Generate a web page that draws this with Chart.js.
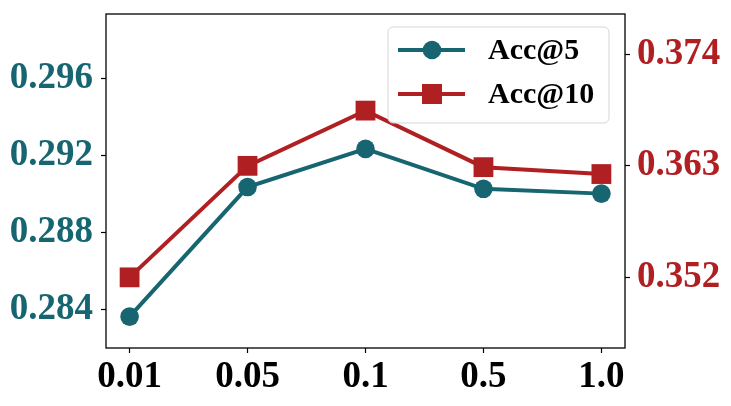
<!DOCTYPE html>
<html>
<head>
<meta charset="utf-8">
<script src="https://cdn.jsdelivr.net/npm/chart.js@4/dist/chart.umd.min.js"></script>
<style>
  html, body { margin: 0; padding: 0; background: #fff; }
  #wrap { width: 731px; height: 406px; position: relative; }
</style>
</head>
<body>
<div id="wrap"><canvas id="chart" width="731" height="406"></canvas></div>
<script>
const xLabels = ["0.01", "0.05", "0.1", "0.5", "1.0"];
const acc5 = [0.28364, 0.29036, 0.29234, 0.29027, 0.29002];
const acc10 = [0.3520, 0.3630, 0.36845, 0.36287, 0.36219];
const leftTicks = [0.284, 0.288, 0.292, 0.296];
const rightTicks = [0.352, 0.363, 0.374];

const TEAL = "#176571";
const RED = "#b01f22";
const FONT = "'Liberation Serif', 'Times New Roman', serif";

function pts(arr) {
  return arr.map((v, i) => ({ x: i, y: v }));
}

// zero out the label padding chart.js adds around scales
function noPad(s) {
  s.paddingTop = 0;
  s.paddingBottom = 0;
  s.paddingLeft = 0;
  s.paddingRight = 0;
}

// frame around plot + legend box
const framePlugin = {
  id: "frame",
  afterDatasetsDraw(chart) {
    const ctx = chart.ctx;
    const a = chart.chartArea;
    ctx.save();
    ctx.strokeStyle = "#000";
    ctx.lineWidth = 1.3;
    ctx.strokeRect(a.left, a.top, a.right - a.left, a.bottom - a.top);

    // legend
    const bx = 388, by = 27, bw = 221, bh = 96;
    ctx.beginPath();
    ctx.roundRect(bx, by, bw, bh, 5);
    ctx.fillStyle = "rgba(255,255,255,0.85)";
    ctx.fill();
    ctx.strokeStyle = "#d6d6d6";
    ctx.lineWidth = 1;
    ctx.stroke();

    const items = [
      { label: "Acc@5", color: TEAL, style: "circle", y: 50 },
      { label: "Acc@10", color: RED, style: "rect", y: 94 },
    ];
    items.forEach((it) => {
      ctx.strokeStyle = it.color;
      ctx.lineWidth = 4;
      ctx.beginPath();
      ctx.moveTo(398, it.y);
      ctx.lineTo(465, it.y);
      ctx.stroke();
      ctx.fillStyle = it.color;
      if (it.style === "circle") {
        ctx.beginPath();
        ctx.arc(432, it.y, 9.3, 0, Math.PI * 2);
        ctx.fill();
      } else {
        ctx.fillRect(422, it.y - 10, 20, 20);
      }
      ctx.fillStyle = "#000";
      ctx.font = "bold 30px " + FONT;
      ctx.textBaseline = "middle";
      ctx.textAlign = "left";
      ctx.fillText(it.label, 488, it.y + 1);
    });
    ctx.restore();
  },
};

const ctx = document.getElementById("chart").getContext("2d");
const chart = new Chart(ctx, {
  type: "line",
  data: {
    datasets: [
      {
        label: "Acc@5",
        data: pts(acc5),
        yAxisID: "yL",
        borderColor: TEAL,
        backgroundColor: TEAL,
        borderWidth: 4,
        pointStyle: "circle",
        pointRadius: 9.3,
        pointBorderWidth: 0,
        pointHoverRadius: 9.3,
      },
      {
        label: "Acc@10",
        data: pts(acc10),
        yAxisID: "yR",
        borderColor: RED,
        backgroundColor: RED,
        borderWidth: 4,
        pointStyle: "rect",
        pointRadius: 14,
        pointBorderWidth: 0,
        pointHoverRadius: 14,
      },
    ],
  },
  options: {
    responsive: false,
    animation: false,
    layout: { padding: { top: 11, left: 0, right: 0, bottom: 0 } },
    plugins: {
      legend: { display: false },
      tooltip: { enabled: false },
    },
    scales: {
      x: {
        type: "linear",
        min: -0.2,
        max: 4.2,
        afterBuildTicks: (s) => {
          s.ticks = xLabels.map((_, i) => ({ value: i }));
        },
        afterFit: (s) => {
          s.height = 58;
          noPad(s);
        },
        ticks: {
          callback: (v) => xLabels[v],
          color: "#000",
          font: { family: FONT, size: 37, weight: "bold" },
          padding: 2,
          maxRotation: 0,
          autoSkip: false,
        },
        grid: {
          drawOnChartArea: false,
          drawTicks: true,
          tickLength: 5,
          tickColor: "#000",
          tickWidth: 1.2,
        },
        border: { display: false },
      },
      yL: {
        position: "left",
        min: 0.28201,
        max: 0.29934,
        afterBuildTicks: (s) => {
          s.ticks = leftTicks.map((v) => ({ value: v }));
        },
        afterFit: (s) => {
          s.width = 106;
          noPad(s);
        },
        ticks: {
          callback: (v) => v.toFixed(3),
          color: TEAL,
          font: { family: FONT, size: 37, weight: "bold" },
          padding: 8,
        },
        grid: {
          drawOnChartArea: false,
          drawTicks: true,
          tickLength: 5,
          tickColor: "#000",
          tickWidth: 1.2,
        },
        border: { display: false },
      },
      yR: {
        position: "right",
        min: 0.34503,
        max: 0.37798,
        afterBuildTicks: (s) => {
          s.ticks = rightTicks.map((v) => ({ value: v }));
        },
        afterFit: (s) => {
          s.width = 106;
          noPad(s);
        },
        ticks: {
          callback: (v) => v.toFixed(3),
          color: RED,
          font: { family: FONT, size: 37, weight: "bold" },
          padding: 7,
        },
        grid: {
          drawOnChartArea: false,
          drawTicks: true,
          tickLength: 5,
          tickColor: "#000",
          tickWidth: 1.2,
        },
        border: { display: false },
      },
    },
  },
  plugins: [framePlugin],
});
</script>
</body>
</html>
